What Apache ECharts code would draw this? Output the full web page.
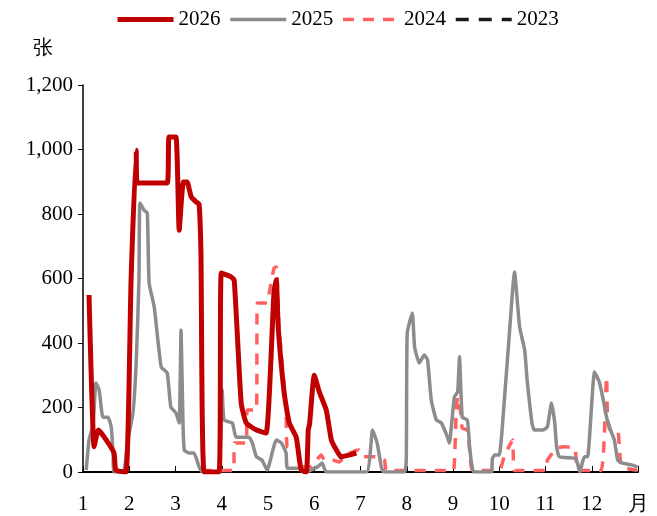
<!DOCTYPE html>
<html>
<head>
<meta charset="utf-8">
<script src="https://cdn.jsdelivr.net/npm/echarts@6/dist/echarts.min.js"></script>
<style>
  html, body { margin: 0; padding: 0; background: #fff; }
  #main { width: 657px; height: 516px; }
</style>
</head>
<body>
<div id="main"></div>
<script>
// x = month position (1 = start of Jan, 13 = end of Dec), y = 张
var years = ['2026', '2025', '2024', '2023'];
var colors = ['#C00000', '#8C8C8C', '#FF6161', '#1A1A1A'];
var widths = [5, 3.5, 3.5, 3.5];

var data2026 = [
    [1.13, 549], [1.24, 78], [1.33, 130], [1.46, 108], [1.67, 59], [1.71, 6], [1.93, 0],
    [2.04, 600], [2.15, 998], [2.17, 896], [2.82, 896], [2.86, 1039], [3.01, 1039],
    [3.08, 750], [3.17, 899], [3.25, 899], [3.34, 853], [3.45, 837], [3.51, 830],
    [3.55, 679], [3.62, 0], [3.94, 0], [3.99, 617], [4.2, 605], [4.27, 595],
    [4.42, 214], [4.53, 152], [4.75, 130], [4.96, 121], [5.13, 560], [5.18, 595],
    [5.22, 450], [5.35, 245], [5.46, 152], [5.61, 108], [5.68, 37], [5.72, 6],
    [5.83, 0], [5.87, 130], [5.9, 150], [6.0, 300], [6.11, 248], [6.26, 192],
    [6.37, 99], [6.48, 68], [6.58, 47], [6.76, 53], [6.91, 59]
];

var data2025 = [
    [1.07, 6], [1.13, 99], [1.22, 150], [1.28, 276], [1.35, 254], [1.43, 170], [1.54, 170],
    [1.61, 140], [1.65, 59], [1.67, 0], [1.87, 0], [1.97, 99], [2.08, 183], [2.15, 338],
    [2.21, 595], [2.23, 834], [2.32, 812], [2.39, 803], [2.43, 586], [2.54, 512],
    [2.69, 326], [2.82, 307], [2.9, 201], [3.01, 183], [3.08, 152], [3.12, 440],
    [3.16, 161], [3.19, 68], [3.29, 59], [3.4, 59], [3.51, 16], [3.58, 0], [3.92, 0],
    [4.01, 254], [4.05, 161], [4.23, 152], [4.31, 108], [4.59, 108], [4.66, 90],
    [4.75, 47], [4.87, 37], [4.98, 6], [5.18, 99], [5.29, 90], [5.39, 59], [5.42, 12],
    [5.68, 12], [5.8, 0], [6.07, 16], [6.17, 28], [6.26, 0], [7.13, 0], [7.26, 130],
    [7.36, 90], [7.45, 16], [7.5, 0], [7.95, 0], [7.99, 37], [8.01, 431], [8.12, 493],
    [8.17, 388], [8.27, 338], [8.38, 363], [8.45, 347], [8.53, 223], [8.64, 161],
    [8.75, 152], [8.88, 108], [8.92, 90], [9.03, 233], [9.1, 248], [9.14, 357],
    [9.2, 170], [9.31, 161], [9.36, 78], [9.4, 28], [9.45, 0], [9.83, 0], [9.85, 40],
    [9.9, 53], [10.0, 53], [10.11, 223], [10.22, 431], [10.33, 620], [10.44, 450],
    [10.55, 378], [10.6, 290], [10.71, 150], [10.76, 130], [10.94, 130], [11.04, 140],
    [11.13, 214], [11.2, 152], [11.24, 78], [11.3, 47], [11.63, 43], [11.69, 28],
    [11.74, 0], [11.84, 47], [11.91, 47], [12.06, 310], [12.17, 276], [12.28, 201],
    [12.32, 170], [12.43, 121], [12.49, 99], [12.56, 37], [12.65, 28], [12.86, 22],
    [12.99, 16]
];

var data2024 = [
    [3.55, 5], [4.26, 5], [4.27, 90], [4.53, 90], [4.55, 192], [4.75, 192], [4.77, 524],
    [4.98, 524], [5.03, 558], [5.13, 632], [5.18, 636], [5.24, 450], [5.39, 192],
    [5.42, 78], [5.63, 78], [5.72, 16], [5.93, 16], [6.0, 28], [6.15, 53], [6.22, 37],
    [6.39, 37], [6.54, 31], [6.65, 47], [6.82, 62], [6.97, 68], [7.04, 47], [7.38, 47],
    [7.52, 37], [7.56, 5], [9.0, 5], [9.03, 28], [9.07, 192], [9.1, 233], [9.18, 170],
    [9.2, 136], [9.31, 130], [9.36, 68], [9.42, 5], [10.0, 5], [10.11, 50], [10.29, 99],
    [10.33, 5], [11.0, 5], [11.04, 37], [11.09, 47], [11.24, 74], [11.41, 78],
    [11.63, 74], [11.67, 30], [11.7, 5], [12.2, 5], [12.32, 295], [12.34, 170],
    [12.39, 130], [12.56, 130], [12.6, 68], [12.65, 16], [12.99, 5]
];

// 2023: no non-zero values visible in the chart
var data2023 = [];

var monthTicks = ['1', '2', '3', '4', '5', '6', '7', '8', '9', '10', '11', '12', '月'];

var chart = echarts.init(document.getElementById('main'), null, { renderer: 'canvas' });
var font = '"Liberation Serif", "DejaVu Serif", serif';

var legendData = years.map(function (y, i) {
    return { name: y, lineStyle: { width: widths[i] } };
});

var option = {
    animation: false,
    textStyle: { fontFamily: font, color: '#000' },
    legend: {
        top: 4,
        left: 110,
        itemWidth: 56,
        itemHeight: 14,
        itemGap: 8,
        data: legendData,
        itemStyle: { opacity: 0 },
        textStyle: { fontFamily: font, fontSize: 21, color: '#000' }
    },
    grid: { left: 83, right: 19, top: 85, bottom: 44 },
    xAxis: {
        type: 'value',
        min: 1,
        max: 13,
        interval: 1,
        splitLine: { show: false },
        axisLine: { lineStyle: { color: '#000', width: 2 } },
        axisTick: { inside: true, length: 6, lineStyle: { color: '#000' } },
        axisLabel: {
            fontFamily: font, fontSize: 21, color: '#000', margin: 22,
            formatter: function (v) { return monthTicks[v - 1]; }
        }
    },
    yAxis: {
        type: 'value',
        min: 0,
        max: 1200,
        interval: 200,
        name: '张',
        nameGap: 26,
        nameTextStyle: { fontFamily: font, fontSize: 20, color: '#000', align: 'right', padding: [0, 30, 0, 0] },
        splitLine: { show: false },
        axisLine: { show: true, lineStyle: { color: '#000', width: 1.5 } },
        axisTick: { show: true, length: 5, lineStyle: { color: '#000' } },
        axisLabel: {
            fontFamily: font, fontSize: 21, color: '#000', margin: 10,
            formatter: function (v) { return v.toLocaleString('en-US'); }
        }
    },
    series: [
        {
            name: '2026', type: 'line', data: data2026, z: 5, smooth: 0.15,
            symbol: 'none', color: colors[0],
            lineStyle: { width: widths[0], color: colors[0] }
        },
        {
            name: '2025', type: 'line', data: data2025, z: 4, smooth: 0.15,
            symbol: 'none', color: colors[1],
            lineStyle: { width: widths[1], color: colors[1] }
        },
        {
            name: '2024', type: 'line', data: data2024, z: 3, smooth: 0.15,
            symbol: 'none', color: colors[2],
            lineStyle: { width: widths[2], color: colors[2], type: [11, 9] }
        },
        {
            name: '2023', type: 'line', data: data2023, z: 2,
            symbol: 'none', color: colors[3],
            lineStyle: { width: widths[3], color: colors[3], type: [13, 10] }
        }
    ]
};

chart.setOption(option);
</script>
</body>
</html>
